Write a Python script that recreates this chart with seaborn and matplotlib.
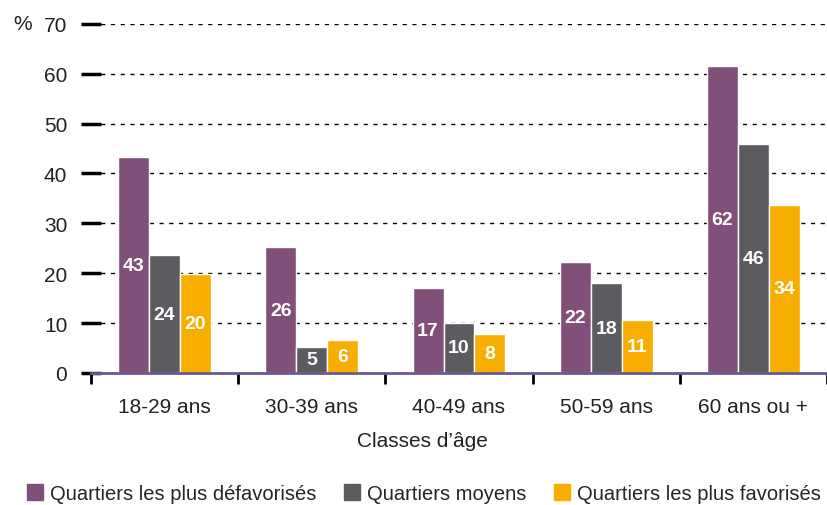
import numpy as np
import pandas as pd
import seaborn as sns
import matplotlib.pyplot as plt
from matplotlib.lines import Line2D

# data
age_classes = ['18-29 ans', '30-39 ans', '40-49 ans', '50-59 ans', '60 ans ou +']
series = ['Quartiers les plus défavorisés', 'Quartiers moyens', 'Quartiers les plus favorisés']
defavorises = [43.2, 25.2, 17.0, 22.3, 61.5]
moyens = [23.6, 5.2, 10.0, 18.0, 45.8]
favorises = [19.8, 6.6, 7.8, 10.6, 33.7]
# printed labels (rounded values from the source)
lab_defavorises = [43, 26, 17, 22, 62]
lab_moyens = [24, 5, 10, 18, 46]
lab_favorises = [20, 6, 8, 11, 34]

colors = ['#81507A', '#5C5B60', '#F7AE00']

df = pd.DataFrame({
    'classe': age_classes * 3,
    'quartier': np.repeat(series, len(age_classes)),
    'valeur': defavorises + moyens + favorises,
    'label': lab_defavorises + lab_moyens + lab_favorises,
})

sns.set_style('white')
plt.rcParams['font.family'] = ['Liberation Sans', 'DejaVu Sans']

fig = plt.figure(figsize=(8.27, 5.06), dpi=100)
ax = fig.add_axes([0.110, 0.261, 0.890, 0.690])

sns.barplot(data=df, x='classe', y='valeur', hue='quartier', palette=colors,
            width=0.63, saturation=1, ax=ax, legend=False)

# bar labels, centred inside the bars
for cont, q in zip(ax.containers, series):
    labs = df.loc[df['quartier'] == q, 'label'].tolist()
    for rect, lab in zip(cont, labs):
        ax.text(rect.get_x() + rect.get_width() / 2, rect.get_height() / 2, str(lab),
                ha='center', va='center', color='white', fontsize=14, fontweight='bold')

ax.set_ylim(0, 70)
ax.set_xlim(-0.5, 4.5)
ax.set_yticks(range(0, 71, 10))
ax.yaxis.grid(True, linestyle=(0, (3, 4)), color='black', linewidth=1)
ax.xaxis.grid(False)
ax.set_axisbelow(True)

for s in ['top', 'right', 'left']:
    ax.spines[s].set_visible(False)
ax.spines['bottom'].set_color('#6B5A8E')
ax.spines['bottom'].set_linewidth(2)

ax.tick_params(axis='y', left=True, direction='inout', length=14, width=2.5, color='black',
               labelsize=15, pad=10, labelcolor='#222222')

# boundary ticks on x, labels at the centres
ax.set_xticks(np.arange(-0.5, 5, 1))
ax.set_xticklabels([])
ax.set_xticks(range(5), minor=True)
ax.set_xticklabels(age_classes, minor=True)
ax.tick_params(axis='x', which='major', bottom=True, direction='out', length=8, width=2,
               color='black')
ax.tick_params(axis='x', which='minor', bottom=True, length=0, labelsize=15, pad=17,
               labelcolor='#222222')
ax.set_xlabel('')
ax.set_ylabel('')

fig.text(0.027, 0.951, '%', fontsize=15, ha='center', va='center', color='#222222')
fig.text(0.511, 0.128, 'Classes d\u2019âge', fontsize=15, ha='center', va='center', color='#222222')

handles = [Line2D([0], [0], marker='s', linestyle='', markersize=11, color=c) for c in colors]
fig.legend(handles, series, loc='center', bbox_to_anchor=(0.512, 0.023), ncol=3, frameon=False,
           fontsize=14.5, handletextpad=0.3, columnspacing=1.3, handlelength=0.9)

fig.savefig('out.png', dpi=100)
